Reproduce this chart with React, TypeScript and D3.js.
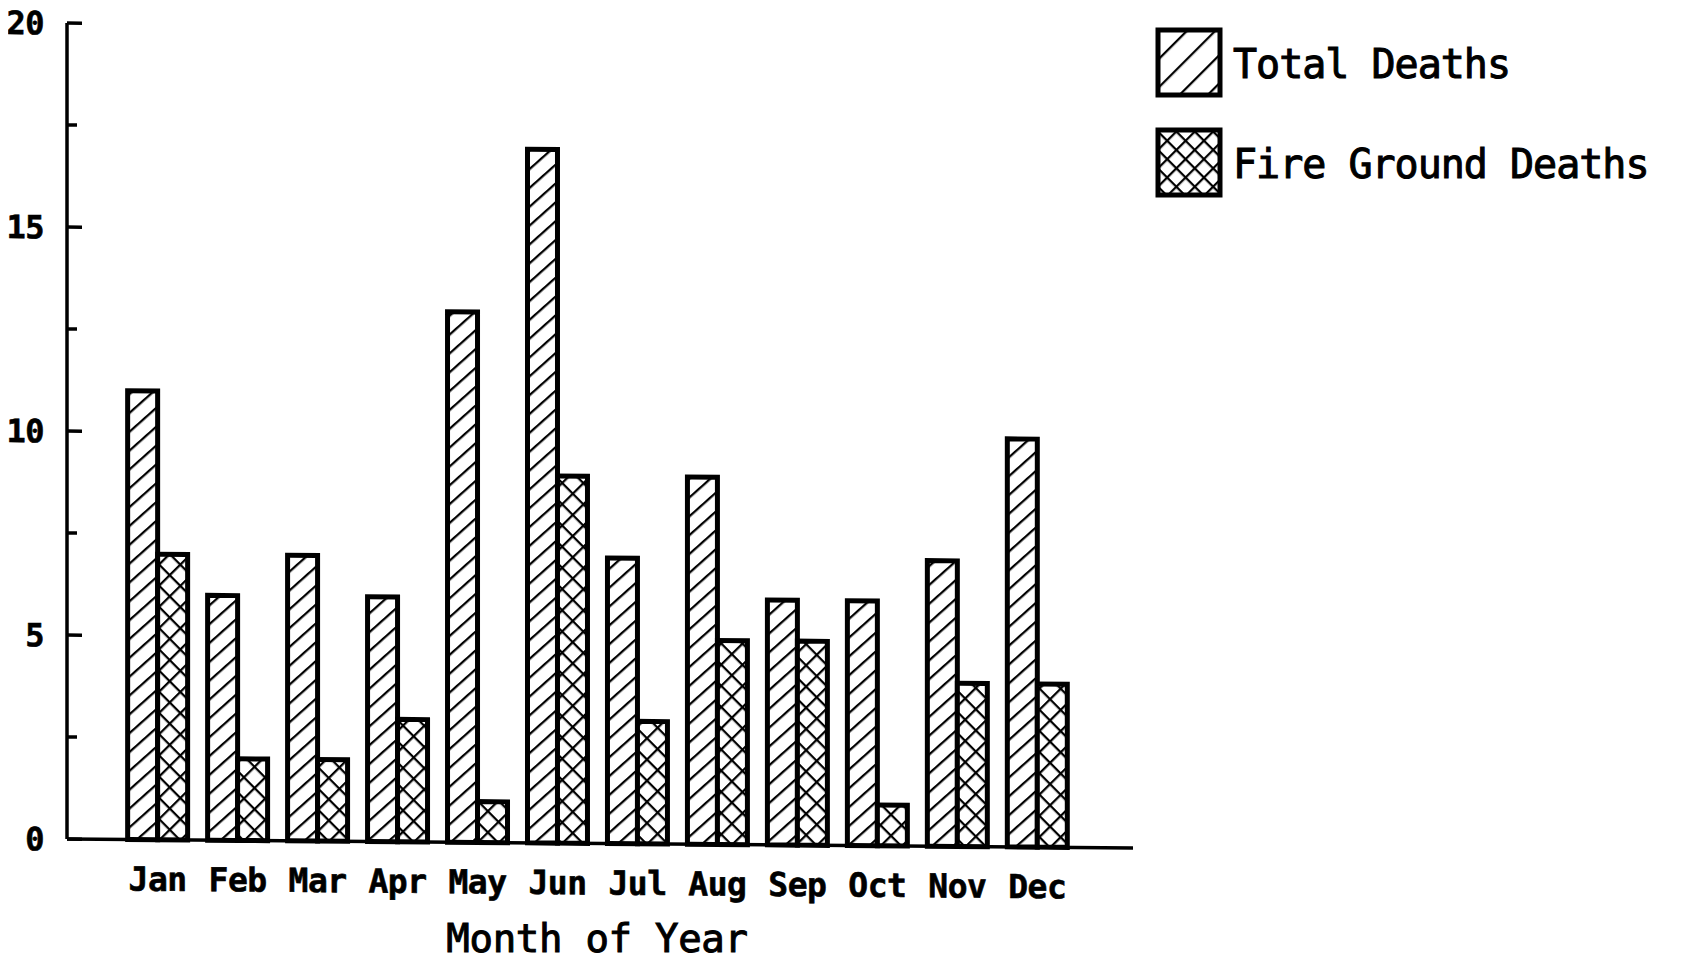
import React from 'react';
import * as d3 from 'd3';

const months = ['Jan', 'Feb', 'Mar', 'Apr', 'May', 'Jun', 'Jul', 'Aug', 'Sep', 'Oct', 'Nov', 'Dec'];
const totalDeaths = [11, 6, 7, 6, 13, 17, 7, 9, 6, 6, 7, 10];
const fireGroundDeaths = [7, 2, 2, 3, 1, 9, 3, 5, 5, 1, 4, 4];
const seriesNames = ['Total Deaths', 'Fire Ground Deaths'];
const majorTicks = [0, 5, 10, 15, 20];
const minorTicks = [2.5, 7.5, 12.5, 17.5];

const W = 1681;
const H = 962;
const FONT = '"DejaVu Sans Mono", monospace';

export default function App() {
  const margin = { left: 67, top: 23, right: 1133, bottom: 839 };

  const x = d3.scaleBand<string>()
    .domain(months)
    .range([margin.left, margin.right])
    .paddingInner(0.25)
    .paddingOuter(0.79)
    .align(0.48);

  const xs = d3.scaleBand<string>()
    .domain(['total', 'fire'])
    .range([0, x.bandwidth()]);

  const y = d3.scaleLinear().domain([0, 20]).range([margin.bottom, margin.top]);

  const series = [
    { key: 'total', values: totalDeaths, fill: 'url(#hatch)' },
    { key: 'fire', values: fireGroundDeaths, fill: 'url(#cross)' },
  ];

  // the scan is slightly skewed: right side sits a few px lower
  const skew = `translate(${margin.left},0) skewY(0.48) translate(${-margin.left},0)`;

  return (
    <div style={{ margin: -8, background: '#fff', width: W, height: H, overflow: 'hidden' }}>
      <svg width={W} height={H} style={{ display: 'block' }}>
        <defs>
          <pattern id="hatch" patternUnits="userSpaceOnUse" width={14} height={14} patternTransform="rotate(48)">
            <rect width={14} height={14} fill="#fff" />
            <line x1={0} y1={-1} x2={0} y2={15} stroke="#000" strokeWidth={4.5} />
          </pattern>
          <pattern id="cross" patternUnits="userSpaceOnUse" width={15} height={15} patternTransform="rotate(45)">
            <rect width={15} height={15} fill="#fff" />
            <line x1={0} y1={-1} x2={0} y2={16} stroke="#000" strokeWidth={4.5} />
            <line x1={-1} y1={0} x2={16} y2={0} stroke="#000" strokeWidth={4.5} />
          </pattern>
          <pattern id="hatchLg" patternUnits="userSpaceOnUse" width={20} height={20} patternTransform="rotate(45)">
            <rect width={20} height={20} fill="#fff" />
            <line x1={0} y1={-1} x2={0} y2={21} stroke="#000" strokeWidth={4.5} />
          </pattern>
          <pattern id="crossLg" patternUnits="userSpaceOnUse" width={13} height={13} patternTransform="rotate(45)">
            <rect width={13} height={13} fill="#fff" />
            <line x1={0} y1={-1} x2={0} y2={14} stroke="#000" strokeWidth={4.5} />
            <line x1={-1} y1={0} x2={14} y2={0} stroke="#000" strokeWidth={4.5} />
          </pattern>
        </defs>

        <g transform={skew}>
          {/* bars */}
          {series.map(s => (
            <g key={s.key}>
              {months.map((m, i) => (
                <rect
                  key={m}
                  x={(x(m) ?? 0) + (xs(s.key) ?? 0)}
                  y={y(s.values[i])}
                  width={xs.bandwidth()}
                  height={y(0) - y(s.values[i])}
                  fill={s.fill}
                  stroke="#000"
                  strokeWidth={5}
                />
              ))}
            </g>
          ))}

          {/* axes */}
          <line x1={margin.left} x2={margin.left} y1={y(20)} y2={y(0)} stroke="#000" strokeWidth={3.5} />
          <line x1={margin.left} x2={margin.right} y1={y(0)} y2={y(0)} stroke="#000" strokeWidth={3.5} />
          {majorTicks.map(t => (
            <g key={t}>
              <line x1={margin.left} x2={margin.left + 15} y1={y(t)} y2={y(t)} stroke="#000" strokeWidth={3.5} />
              <text
                x={44}
                y={y(t)}
                dy="0.36em"
                textAnchor="end"
                fontFamily={FONT}
                fontWeight="bold"
                fontSize={32}
                letterSpacing={-0.5}
                stroke="#000"
                strokeWidth={0.6}
              >
                {t}
              </text>
            </g>
          ))}
          {minorTicks.map(t => (
            <line key={t} x1={margin.left} x2={margin.left + 10} y1={y(t)} y2={y(t)} stroke="#000" strokeWidth={3.5} />
          ))}

          {months.map(m => (
            <text
              key={m}
              x={(x(m) ?? 0) + x.bandwidth() / 2}
              y={890}
              textAnchor="middle"
              fontFamily={FONT}
              fontWeight="bold"
              fontSize={33}
              letterSpacing={-0.5}
              stroke="#000"
              strokeWidth={0.6}
            >
              {m}
            </text>
          ))}
        </g>

        <text
          x={597}
          y={952}
          textAnchor="middle"
          fontFamily={FONT}
          fontSize={39}
          letterSpacing={-0.3}
          stroke="#000"
          strokeWidth={1}
        >
          Month of Year
        </text>

        {/* legend */}
        {seriesNames.map((name, i) => (
          <g key={name} transform={`translate(1158,${30 + i * 100})`}>
            <rect width={62} height={65} fill={i === 0 ? 'url(#hatchLg)' : 'url(#crossLg)'} stroke="#000" strokeWidth={5} />
            <text x={75} y={48} fontFamily={FONT} fontSize={40} letterSpacing={-1} stroke="#000" strokeWidth={1}>
              {name}
            </text>
          </g>
        ))}
      </svg>
    </div>
  );
}
